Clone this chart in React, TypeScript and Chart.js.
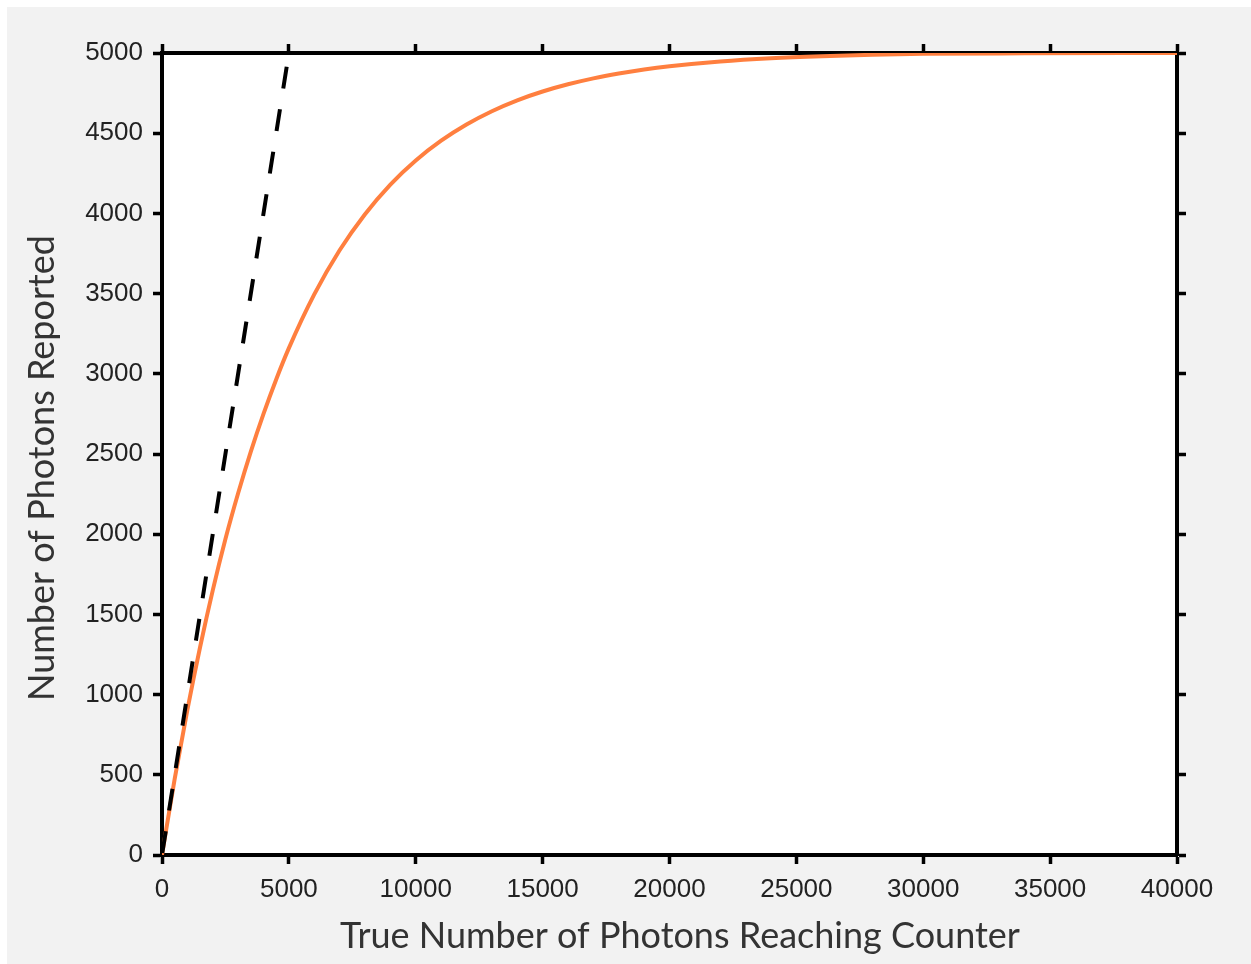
import React, { useEffect, useRef } from "react";
import { Chart, registerables } from "chart.js";

Chart.register(...registerables);

// True photon count reaching the counter
const TRUE_COUNTS = [
  0, 500, 1000, 1500, 2000, 2500, 3000, 3500, 4000, 4500, 5000, 6000, 7000,
  8000, 9000, 10000, 11000, 12000, 13000, 14000, 15000, 16000, 17000, 18000,
  19000, 20000, 22000, 24000, 26000, 28000, 30000, 34000, 40000,
];
// Photons reported by the counter (saturating response)
const REPORTED_COUNTS = [
  0, 475, 905, 1295, 1650, 1970, 2255, 2515, 2750, 2965, 3160, 3495, 3770,
  3995, 4180, 4330, 4453, 4554, 4637, 4705, 4760, 4805, 4842, 4872, 4897, 4917,
  4947, 4967, 4980, 4989, 4995, 4998, 5000,
];
// Ideal one-to-one response
const IDEAL_X = [0, 5000];
const IDEAL_Y = [0, 5000];

const X_TICKS = [0, 5000, 10000, 15000, 20000, 25000, 30000, 35000, 40000];
const Y_TICKS = [0, 500, 1000, 1500, 2000, 2500, 3000, 3500, 4000, 4500, 5000];

const X_TITLE = "True Number of Photons Reaching Counter";
const Y_TITLE = "Number of Photons Reported";

const W = 1251;
const H = 964;
const AREA = { left: 162, right: 1177, top: 53, bottom: 855 };

const tickFont = { family: "'Liberation Sans', Arial, sans-serif", size: 26 };

const plotBackground = {
  id: "plotBackground",
  beforeDraw(chart: any) {
    const { ctx, chartArea } = chart;
    ctx.save();
    ctx.fillStyle = "#ffffff";
    ctx.fillRect(
      chartArea.left,
      chartArea.top,
      chartArea.right - chartArea.left,
      chartArea.bottom - chartArea.top
    );
    ctx.restore();
  },
};

const axisTitles = {
  id: "axisTitles",
  afterDraw(chart: any) {
    const { ctx } = chart;
    ctx.save();
    ctx.fillStyle = "#333333";
    ctx.font = "36px Lato, 'Open Sans', sans-serif";
    ctx.textAlign = "center";
    ctx.textBaseline = "middle";
    ctx.fillText(X_TITLE, 680, 936);
    ctx.translate(42, 468);
    ctx.rotate(-Math.PI / 2);
    ctx.fillText(Y_TITLE, 0, 0);
    ctx.restore();
  },
};

function fixedTicks(values: number[]) {
  return (scale: any) => {
    scale.ticks = values.map((v) => ({ value: v }));
  };
}

const gridStyle = {
  drawOnChartArea: false,
  drawTicks: true,
  tickLength: 9,
  tickWidth: 3.5,
  tickColor: "#000000",
};
const borderStyle = { display: true, color: "#000000", width: 4 };

export default function App() {
  const canvasRef = useRef<HTMLCanvasElement | null>(null);

  useEffect(() => {
    const canvas = canvasRef.current;
    if (!canvas) return;

    const curve = TRUE_COUNTS.map((x, i) => ({ x, y: REPORTED_COUNTS[i] }));
    const ideal = IDEAL_X.map((x, i) => ({ x, y: IDEAL_Y[i] }));

    const chart = new Chart(canvas, {
      type: "line",
      data: {
        datasets: [
          {
            label: "Ideal",
            data: ideal,
            borderColor: "#000000",
            borderWidth: 4,
            borderDash: [22, 21],
            borderDashOffset: 41,
            pointRadius: 0,
            fill: false,
            xAxisID: "x",
            yAxisID: "y",
          },
          {
            label: "Reported",
            data: curve,
            borderColor: "#ff7f3f",
            borderWidth: 4,
            pointRadius: 0,
            fill: false,
            cubicInterpolationMode: "monotone",
            xAxisID: "x",
            yAxisID: "y",
          },
        ],
      },
      options: {
        responsive: false,
        animation: false,
        devicePixelRatio: 1,
        layout: { padding: 0 },
        plugins: {
          legend: { display: false },
          tooltip: { enabled: false },
        },
        scales: {
          x: {
            type: "linear",
            position: "bottom",
            min: 0,
            max: 40000,
            z: 1,
            afterBuildTicks: fixedTicks(X_TICKS),
            afterFit: (s: any) => {
              s.height = H - AREA.bottom;
            },
            grid: gridStyle,
            border: borderStyle,
            ticks: {
              color: "#222222",
              font: tickFont,
              padding: 10,
              maxRotation: 0,
              autoSkip: false,
              callback: (v: any) => String(v),
            },
          },
          x2: {
            type: "linear",
            position: "top",
            min: 0,
            max: 40000,
            z: 1,
            afterBuildTicks: fixedTicks(X_TICKS),
            afterFit: (s: any) => {
              s.height = AREA.top;
            },
            grid: gridStyle,
            border: borderStyle,
            ticks: { display: false },
          },
          y: {
            type: "linear",
            position: "left",
            min: 0,
            max: 5000,
            z: 1,
            afterBuildTicks: fixedTicks(Y_TICKS),
            afterFit: (s: any) => {
              s.width = AREA.left;
            },
            grid: gridStyle,
            border: borderStyle,
            ticks: {
              color: "#222222",
              font: tickFont,
              padding: 10,
              autoSkip: false,
              callback: (v: any) => String(v),
            },
          },
          y2: {
            type: "linear",
            position: "right",
            min: 0,
            max: 5000,
            z: 1,
            afterBuildTicks: fixedTicks(Y_TICKS),
            afterFit: (s: any) => {
              s.width = W - AREA.right;
            },
            grid: gridStyle,
            border: borderStyle,
            ticks: { display: false },
          },
        },
      },
      plugins: [plotBackground, axisTitles],
    });

    return () => chart.destroy();
  }, []);

  return (
    <div style={{ position: "absolute", left: 0, top: 0, width: W, height: H }}>
      <div
        style={{
          position: "absolute",
          left: 7,
          top: 7,
          width: W - 7,
          height: H - 7,
          background: "#f2f2f2",
        }}
      />
      <canvas
        ref={canvasRef}
        width={W}
        height={H}
        style={{ position: "absolute", left: 0, top: 0, width: W, height: H }}
      />
    </div>
  );
}
